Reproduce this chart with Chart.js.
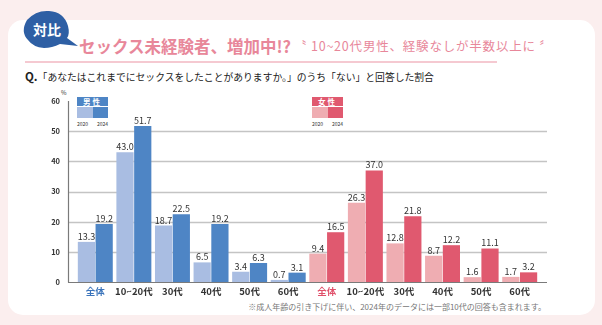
<!DOCTYPE html>
<html>
<head>
<meta charset="utf-8">
<script src="https://cdn.jsdelivr.net/npm/chart.js@4"></script>
<style>
  body{margin:0;width:602px;height:325px;background:#fbeeee;font-family:"Noto Sans CJK JP",sans-serif;overflow:hidden;position:relative}
  #card{position:absolute;left:8px;top:20px;width:587px;height:295px;background:#fff;border-radius:15px}
  #badge{position:absolute;left:0;top:0}
  #title{position:absolute;left:79px;top:34px;font-size:16.5px;font-weight:bold;color:#e8879a;white-space:nowrap}
  #sub{position:absolute;left:294px;top:36px;font-size:12.5px;color:#e8879a;white-space:nowrap;letter-spacing:0.8px}
  #rule{position:absolute;left:25px;top:61px;width:472px;height:1.5px;background:#f5c9d1}
  #q{position:absolute;left:25px;top:68px;font-size:9.8px;color:#222;white-space:nowrap}
  #q b{font-size:11.5px}
  .leg{position:absolute;top:97px;width:31px}
  .leg .hd{height:9px;color:#fff;font-size:7.5px;font-weight:bold;text-align:center;line-height:9px;letter-spacing:2px}
  .leg .sw{display:flex;height:11px;margin-top:1px}
  .leg .sw div{flex:1}
  .leg .yr{font-size:5px;color:#333;display:flex;justify-content:space-between;margin-top:2px}
  #pct{position:absolute;left:61px;top:88px;font-size:6px;color:#333}
  #note{position:absolute;right:56px;top:301px;font-size:8px;color:#777;white-space:nowrap}
  canvas{position:absolute;left:0;top:0}
</style>
</head>
<body>
<div id="card"></div>
<svg id="badge" width="90" height="60">
  <path d="M28 40 Q20 32 27 20 Q36 10 49 11 Q64 12 68 26 Q70 34 67 38 L78 46 L60 44 Q52 48 44 48 Q33 47 28 40 Z" fill="#2e5fa4"/>
</svg>
<div style="position:absolute;left:33px;top:19px;font-size:14px;color:#fff;font-weight:bold">対比</div>
<div id="title">セックス未経験者、増加中!?</div>
<div id="sub">〝 10~20代男性、経験なしが半数以上に 〞</div>
<div id="rule"></div>
<div id="q"><b>Q.</b>「あなたはこれまでにセックスをしたことがありますか。」のうち「ない」と回答した割合</div>
<div id="pct">%</div>
<div class="leg" style="left:77px">
  <div class="hd" style="background:#4e85c5">男性</div>
  <div class="sw"><div style="background:#a9bde2"></div><div style="background:#4e85c5"></div></div>
  <div class="yr"><span>2020</span><span>2024</span></div>
</div>
<div class="leg" style="left:312px">
  <div class="hd" style="background:#e0596f">女性</div>
  <div class="sw"><div style="background:#efadb2"></div><div style="background:#e0596f"></div></div>
  <div class="yr"><span>2020</span><span>2024</span></div>
</div>
<div id="note">※成人年齢の引き下げに伴い、2024年のデータには一部10代の回答も含まれます。</div>
<canvas id="grafico" width="602" height="325"></canvas>
<script>
// datos
var categorias = ["全体", "10~20代", "30代", "40代", "50代", "60代"];
var hombres2020 = [13.3, 43.0, 18.7, 6.5, 3.4, 0.7];
var hombres2024 = [19.2, 51.7, 22.5, 19.2, 6.3, 3.1];
var mujeres2020 = [9.4, 26.3, 12.8, 8.7, 1.6, 1.7];
var mujeres2024 = [16.5, 37.0, 21.8, 12.2, 11.1, 3.2];
var yTicks = [0, 10, 20, 30, 40, 50, 60];

var azulClaro = "#a9bde2", azul = "#4e85c5";
var rosaClaro = "#efadb2", rosa = "#e0596f";

var etiquetas = categorias.concat(categorias);
var n = categorias.length;
function colores(c1, c2){
  var out = [];
  for (var i = 0; i < n * 2; i++) out.push(i < n ? c1 : c2);
  return out;
}

// lineas de la grilla, mas anchas que el area del grafico
var grilla = {
  id: "grilla",
  beforeDatasetsDraw: function(chart){
    var ctx = chart.ctx, y = chart.scales.y;
    ctx.save();
    ctx.strokeStyle = "#c4c4c4";
    ctx.lineWidth = 1.5;
    for (var i = 1; i < yTicks.length - 1; i++) {
      var py = Math.round(y.getPixelForValue(yTicks[i])) + 0.5;
      ctx.beginPath(); ctx.moveTo(68, py); ctx.lineTo(547, py); ctx.stroke();
    }
    ctx.restore();
  },
  afterDatasetsDraw: function(chart){
    var ctx = chart.ctx, y = chart.scales.y;
    var base = Math.round(y.getPixelForValue(0)) + 0.5;
    ctx.save();
    ctx.strokeStyle = "#7a7a7a";
    ctx.lineWidth = 1.2;
    ctx.beginPath(); ctx.moveTo(68, base); ctx.lineTo(547, base); ctx.stroke();
    ctx.beginPath(); ctx.moveTo(68.5, y.getPixelForValue(60)); ctx.lineTo(68.5, base); ctx.stroke();
    // valores encima de las barras
    ctx.fillStyle = "#333";
    ctx.font = "9px 'Noto Sans CJK JP'";
    ctx.textAlign = "center";
    ctx.textBaseline = "bottom";
    chart.data.datasets.forEach(function(ds, d){
      chart.getDatasetMeta(d).data.forEach(function(bar, i){
        ctx.fillText(ds.data[i].toFixed(1), bar.x, bar.y - 1);
      });
    });
    ctx.restore();
  }
};

var ctx = document.getElementById("grafico").getContext("2d");
var grafico = new Chart(ctx, {
  type: "bar",
  data: {
    labels: etiquetas,
    datasets: [{
      label: "2020",
      data: hombres2020.concat(mujeres2020),
      backgroundColor: colores(azulClaro, rosaClaro)
    }, {
      label: "2024",
      data: hombres2024.concat(mujeres2024),
      backgroundColor: colores(azul, rosa)
    }]
  },
  options: {
    responsive: false,
    animation: false,
    layout: { padding: { top: 101, right: 63, left: 0, bottom: 0 } },
    categoryPercentage: 0.92,
    barPercentage: 0.97,
    plugins: { legend: { display: false }, tooltip: { enabled: false } },
    scales: {
      x: {
        offset: true,
        grid: { display: false, drawTicks: false },
        border: { display: false },
        afterFit: function(s){ s.height = 43; },
        ticks: {
          padding: 4,
          maxRotation: 0,
          autoSkip: false,
          font: { family: "Noto Sans CJK JP", size: 9.5, weight: "bold" },
          color: function(c){
            if (c.index === 0) return "#3b74bb";
            if (c.index === n) return "#e0506a";
            return "#333";
          }
        }
      },
      y: {
        min: 0,
        max: 60,
        grid: { display: false, drawTicks: false },
        border: { display: false },
        afterFit: function(s){ s.width = 76; },
        ticks: {
          stepSize: 10,
          padding: 16,
          color: "#333",
          font: { family: "Noto Sans CJK JP", size: 7.5, weight: "bold" }
        }
      }
    }
  },
  plugins: [grilla]
});
</script>
</body>
</html>
